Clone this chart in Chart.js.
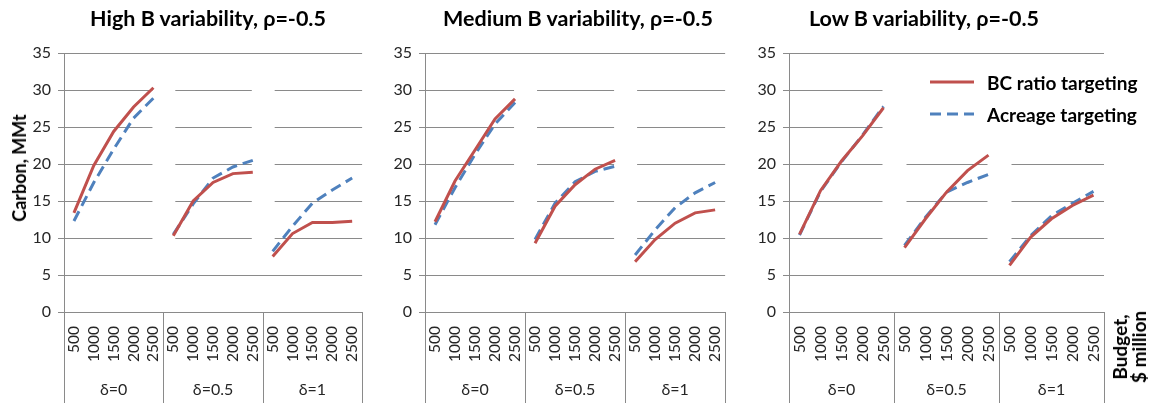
<!DOCTYPE html>
<html>
<head>
<meta charset="utf-8">
<script src="https://cdn.jsdelivr.net/npm/chart.js@4.4.1/dist/chart.umd.min.js"></script>
<style>
  body { margin: 0; background: #fff; }
  #wrap { position: relative; width: 1158px; height: 406px; overflow: hidden; font-family: Lato, "Noto Sans", sans-serif; color: #000; }
  canvas { position: absolute; top: 0; }
  .title { position: absolute; top: 6px; line-height: 24px; font-size: 21.5px; font-weight: bold; white-space: nowrap; transform: translateX(-50%); }
  .rot { position: absolute; font-weight: bold; white-space: nowrap; transform: translate(-50%, -50%) rotate(-90deg); text-align: center; }
  #legend { position: absolute; left: 905px; top: 62px; width: 205px; height: 76px; background: #fff; }
  #legend .row { position: absolute; left: 0; height: 24px; display: flex; align-items: center; font-weight: bold; font-size: 19px; white-space: nowrap; }
  #legend svg { margin-left: 25px; margin-right: 13px; }
</style>
</head>
<body>
<div id="wrap">
  <canvas id="c0" width="385" height="406" style="left:0px"></canvas>
  <canvas id="c1" width="363" height="406" style="left:385px"></canvas>
  <canvas id="c2" width="410" height="406" style="left:748px"></canvas>
  <div class="title" style="left:208px">High B variability, ρ=-0.5</div>
  <div class="title" style="left:578px">Medium B variability, ρ=-0.5</div>
  <div class="title" style="left:924px">Low B variability, ρ=-0.5</div>
  <div class="rot" style="left:19px; top:168px; font-size:18px;">Carbon, MMt</div>
  <div class="rot" style="left:1129px; top:347px; font-size:19px; line-height:19px;">Budget,<br>$ million</div>
  <div id="legend">
    <div class="row" style="top:8px">
      <svg width="44" height="6"><line x1="0" y1="3" x2="44" y2="3" stroke="#C0504D" stroke-width="3"/></svg>BC ratio targeting
    </div>
    <div class="row" style="top:40px">
      <svg width="44" height="6"><line x1="0" y1="3" x2="44" y2="3" stroke="#4F81BD" stroke-width="3" stroke-dasharray="11 6"/></svg>Acreage targeting
    </div>
  </div>
</div>
<script>
// budget levels (in $ million) repeated for each delta group
const budgets = ["500", "1000", "1500", "2000", "2500"];
const deltas = ["δ=0", "δ=0.5", "δ=1"];
const xLabels = deltas.flatMap(() => budgets);

// carbon sequestered, MMt: 5 budgets for δ=0, then δ=0.5, then δ=1
const highBC = [13.4, 19.8, 24.4, 27.7, 30.3, 10.3, 15.0, 17.5, 18.7, 18.9, 7.5, 10.6, 12.1, 12.1, 12.25];
const highAcreage = [12.3, 17.5, 22.0, 26.2, 28.9, 10.5, 14.6, 18.1, 19.6, 20.5, 8.2, 11.6, 14.7, 16.5, 18.1];
const mediumBC = [12.2, 17.7, 21.9, 26.1, 28.8, 9.3, 14.3, 17.2, 19.3, 20.5, 6.8, 9.8, 12.0, 13.4, 13.8];
const mediumAcreage = [11.8, 16.8, 21.3, 25.4, 28.3, 9.8, 14.7, 17.6, 19.0, 19.7, 7.7, 11.1, 14.1, 16.1, 17.5];
const lowBC = [10.5, 16.4, 20.4, 23.8, 27.6, 8.7, 12.6, 16.2, 19.1, 21.2, 6.3, 10.1, 12.6, 14.4, 15.8];
const lowAcreage = [10.4, 16.3, 20.3, 23.9, 27.8, 9.0, 12.8, 16.2, 17.5, 18.6, 6.8, 10.3, 13.0, 14.7, 16.3];

const panels = [
  { id: "c0", bc: highBC, acreage: highAcreage, yWidth: 64, right: 7 },
  { id: "c1", bc: mediumBC, acreage: mediumAcreage, yWidth: 40, right: 8 },
  { id: "c2", bc: lowBC, acreage: lowAcreage, yWidth: 41, right: 54 },
];

const red = "#C0504D";
const blue = "#4F81BD";
const gridColor = "#8A8A8A";
const font = "Lato, 'Noto Sans', sans-serif";

// one dataset per delta group so the lines break between groups
function groupSets(values, label, color, dash) {
  return deltas.map((d, g) => ({
    label: label,
    data: values.map((v, i) => (Math.floor(i / budgets.length) === g ? v : null)),
    borderColor: color,
    borderWidth: 3,
    borderDash: dash,
    borderCapStyle: "butt",
    pointRadius: 0,
    tension: 0,
    spanGaps: false,
  }));
}

// white patches over the gridlines between groups, plus group separators under the axis
const groupBreaks = {
  id: "groupBreaks",
  beforeDatasetsDraw(chart) {
    const { ctx, scales: { x, y } } = chart;
    ctx.save();
    ctx.fillStyle = "#fff";
    for (let g = 1; g < deltas.length; g++) {
      const i = g * budgets.length;
      const x0 = x.getPixelForValue(i - 1) - 1;
      const x1 = x.getPixelForValue(i) + 2;
      const top = y.getPixelForValue(32.5);
      const bottom = y.getPixelForValue(7.5);
      ctx.fillRect(x0, top, x1 - x0, bottom - top);
    }
    ctx.restore();
  },
  afterDraw(chart) {
    const { ctx, chartArea, scales: { x, x2 } } = chart;
    const xs = [chartArea.left];
    for (let g = 1; g < deltas.length; g++) {
      const i = g * budgets.length;
      xs.push((x.getPixelForValue(i - 1) + x.getPixelForValue(i)) / 2);
    }
    xs.push(chartArea.right);
    ctx.save();
    ctx.strokeStyle = gridColor;
    ctx.lineWidth = 1;
    ctx.beginPath();
    xs.forEach((px) => {
      const cx = Math.round(px) + 0.5;
      ctx.moveTo(cx, chartArea.bottom);
      ctx.lineTo(cx, x2.bottom);
    });
    ctx.stroke();
    ctx.restore();
  },
};

panels.forEach((p) => {
  new Chart(document.getElementById(p.id), {
    type: "line",
    data: {
      labels: xLabels,
      datasets: [
        ...groupSets(p.bc, "BC ratio targeting", red, []),
        ...groupSets(p.acreage, "Acreage targeting", blue, [11, 6]),
      ],
    },
    options: {
      responsive: false,
      animation: false,
      devicePixelRatio: 1,
      layout: { padding: { top: 53, right: p.right, bottom: 3, left: 0 } },
      plugins: { legend: { display: false }, tooltip: { enabled: false } },
      scales: {
        y: {
          min: 0,
          max: 35,
          ticks: { stepSize: 5, color: "#262626", font: { family: font, size: 16 }, padding: 7 },
          grid: { color: gridColor, tickLength: 6 },
          border: { color: gridColor },
          afterFit: (s) => { s.width = p.yWidth; },
        },
        x: {
          offset: true,
          grid: { display: false, drawTicks: false },
          border: { color: gridColor },
          ticks: {
            autoSkip: false,
            minRotation: 90,
            maxRotation: 90,
            color: "#262626",
            font: { family: font, size: 15.5 },
            padding: 14,
          },
          afterFit: (s) => { s.height = 58; },
        },
        x2: {
          type: "category",
          labels: deltas,
          position: "bottom",
          offset: true,
          grid: { display: false, drawTicks: false },
          border: { display: false },
          ticks: { color: "#262626", font: { family: font, size: 16 }, padding: 10 },
          afterFit: (s) => { s.height = 33; },
        },
      },
    },
    plugins: [groupBreaks],
  });
});
</script>
</body>
</html>
